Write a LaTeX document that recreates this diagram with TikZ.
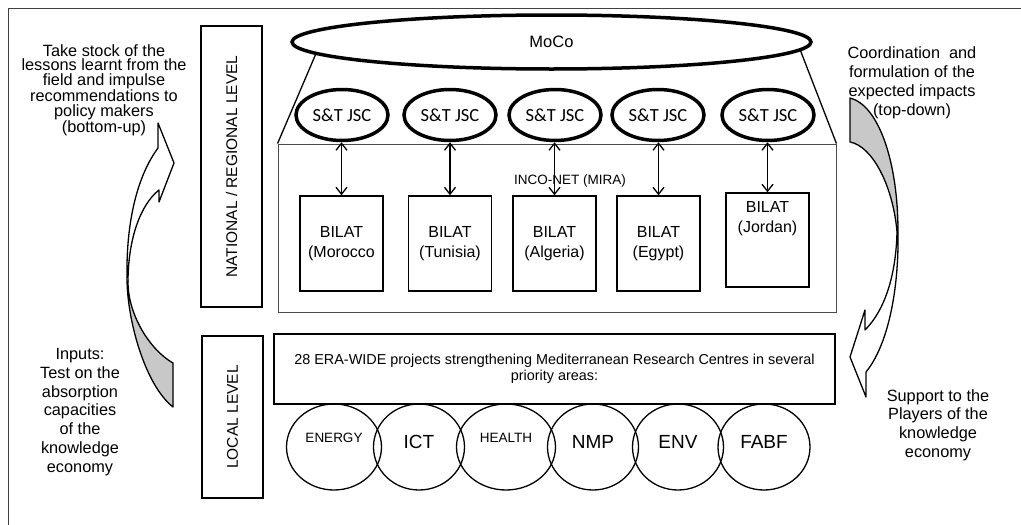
\documentclass[tikz,border=0pt]{standalone}
\usepackage{fontspec}
\setmainfont{Liberation Sans}
\newfontfamily\calibrifont{Carlito}
\usetikzlibrary{arrows.meta,shapes.geometric}

\definecolor{tailgray}{RGB}{200,200,200}

\begin{document}
\begin{tikzpicture}[x=1pt,y=-1pt,
            levelbox/.style={draw, line width=1.4pt, minimum height=61pt, rotate=90, font=\fontsize{15.5}{16}\selectfont},
            jsc/.style={ellipse, draw, line width=3.5pt, minimum width=92pt, minimum height=51pt, inner sep=1pt, font=\calibrifont\fontsize{18.5}{20}\selectfont},
            bilat/.style={draw, line width=1.4pt, minimum width=83pt, minimum height=95pt, align=center, font=\fontsize{16}{20}\selectfont},
            area/.style={ellipse, draw, line width=1.3pt, minimum height=86pt, inner sep=1pt, text depth=10pt, font=\fontsize{19}{20}\selectfont},
            smallarea/.style={area, text depth=18pt, font=\fontsize{13.5}{15}\selectfont},
            link/.style={{Straight Barb[length=7pt,width=11pt]}-{Straight Barb[length=7pt,width=11pt]}, line width=1.3pt},
            note/.style={align=center, inner sep=0pt, anchor=north},
            curve/.style={draw=black, line width=1.3pt, line join=round}]
            \useasboundingbox (0,0) rectangle (1021,525);
            \draw[draw=black!75, line width=1pt] (1021,8) -- (8,8) -- (8,525);

            \node[levelbox, minimum width=281pt] (national) at (231.5,166.5) {NATIONAL / REGIONAL LEVEL};
            \node[levelbox, minimum width=162pt] (local) at (232.5,417) {LOCAL LEVEL};

            \node[draw=black!70, line width=0.9pt, minimum width=558pt, minimum height=168pt] (inconet) at (557,228) {};
            \node[font=\fontsize{13.5}{15}\selectfont] (mira) at (570,181) {INCO-NET (MIRA)};
            \node[ellipse, draw, line width=3.5pt, minimum width=519pt, minimum height=54pt, font=\fontsize{16.5}{18}\selectfont] (moco) at (551.5,42) {MoCo};
            \draw[line width=1.3pt] (moco.183) -- (inconet.north west);
            \draw[line width=1.3pt] (moco.-2.5) -- (inconet.north east);

            \node[jsc] (jsc1) at (342,115) {S\&T JSC};
            \node[jsc] (jsc2) at (450,115) {S\&T JSC};
            \node[jsc] (jsc3) at (555,115) {S\&T JSC};
            \node[jsc] (jsc4) at (658,115) {S\&T JSC};
            \node[jsc] (jsc5) at (768,115) {S\&T JSC};

            \node[bilat] (bilat1) at (341.5,243.5) {BILAT\\(Morocco};
            \node[bilat] (bilat2) at (450,243.5) {BILAT\\(Tunisia)};
            \node[bilat] (bilat3) at (554.5,243.5) {BILAT\\(Algeria)};
            \node[bilat] (bilat4) at (658.5,243.5) {BILAT\\(Egypt)};
            \node[bilat, minimum height=94pt, label={[anchor=north, align=center, inner sep=0pt, yshift=-9pt, font=\fontsize{16}{20}\selectfont]north:BILAT\\(Jordan)}] (bilat5) at (767.5,240) {};

            \draw[link] (bilat1.north) -- (bilat1.north |- jsc1.south);
            \draw[link] (bilat2.north) -- (bilat2.north |- jsc2.south);
            \draw[link] (bilat3.north) -- (bilat3.north |- jsc3.south);
            \draw[link] (bilat4.north) -- (bilat4.north |- jsc4.south);
            \draw[link] (bilat5.north) -- (bilat5.north |- jsc5.south);

            \node[draw, line width=1.4pt, minimum width=561pt, minimum height=70pt, align=center, font=\fontsize{14.4}{16}\selectfont] (erawide) at (554.5,369) {28 ERA-WIDE projects strengthening Mediterranean Research Centres in several\\priority areas:};

            \node[smallarea, minimum width=95pt] (energy) at (334,447) {ENERGY};
            \node[area, minimum width=91pt] (ict) at (419,447) {ICT};
            \node[smallarea, minimum width=99pt] (health) at (506,447) {HEALTH};
            \node[area, minimum width=91pt] (nmp) at (593,447) {NMP};
            \node[area, minimum width=91pt] (env) at (678,447) {ENV};
            \node[area, minimum width=92pt] (fabf) at (764,447) {FABF};

            \draw[curve, fill=tailgray] (173,407) .. controls (145,385) and (127,320) .. (127,278) -- (128,282) .. controls (128,315) and (150,350) .. (173,363) -- cycle;
            \draw[curve, fill=white] (127,278) .. controls (126,220) and (138,175) .. (158,148) -- (158,123) -- (174,163) -- (159,202) -- (159,190) .. controls (140,205) and (128,240) .. (128,282);
            \draw[curve, fill=tailgray] (850,98) .. controls (878,105) and (898,160) .. (898,232) -- (897,232) .. controls (893,185) and (872,146) .. (850,142) -- cycle;
            \draw[curve, fill=white] (897,232) .. controls (896,275) and (885,310) .. (865,330) -- (865,310) -- (850,357) -- (866,397) -- (866,372) .. controls (888,345) and (899,290) .. (898,232);

            \node[note, font=\fontsize{16.3}{14.8}\selectfont] (bottomup) at (104,44) {Take stock of the\\lessons learnt from the\\field and impulse\\recommendations to\\policy makers\\(bottom-up)};
            \node[note, font=\fontsize{16.3}{18.8}\selectfont] (inputs) at (80,348) {Inputs:\\Test on the\\absorption\\capacities\\of the\\knowledge\\economy};
            \node[note, font=\fontsize{16.3}{19}\selectfont] (topdown) at (912,46) {Coordination\ \ and\\formulation of the\\expected impacts\\(top-down)};
            \node[note, font=\fontsize{16.3}{18.8}\selectfont] (support) at (938,389) {Support to the\\Players of the\\knowledge\\economy};
        \end{tikzpicture}
\end{document}
